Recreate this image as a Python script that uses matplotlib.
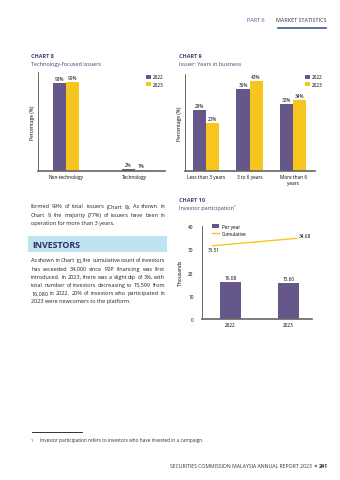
import matplotlib
matplotlib.use("Agg")
import matplotlib.pyplot as plt
import numpy as np

plt.rcParams['font.family'] = ['Open Sans', 'DejaVu Sans']

W, H = 340, 481
purple = "#655789"
yellow = "#f7c520"
navy = "#2b2f6b"
title_col = "#4a3d78"

# chart 8 data
c8_cats = ["Non-technology", "Technology"]
c8_2022 = [98, 2]
c8_2023 = [99, 1]

# chart 9 data
c9_cats = ["Less than 3 years", "3 to 6 years", "More than 6\nyears"]
c9_2022 = [29, 39, 32]
c9_2023 = [23, 43, 34]

# chart 10 data
c10_years = ["2022", "2023"]
c10_per_year = [16.08, 15.60]
c10_cumulative = [31.51, 34.68]

para1 = ["formed 99% of total issuers (Chart 8). As shown in",
         "Chart 9, the majority (77%) of issuers have been in",
         "operation for more than 3 years."]
para2 = ["As shown in Chart 10, the cumulative count of investors",
         "has exceeded 34,000 since P2P financing was first",
         "introduced. In 2023, there was a slight dip of 3%, with",
         "total number of investors decreasing to 15,599 from",
         "16,080 in 2022. 20% of investors who participated in",
         "2023 were newcomers to the platform."]

fig = plt.figure(figsize=(3.4, 4.81), dpi=100)
renderer = fig.canvas.get_renderer()


def fx(x):
    return x / W


def fy(y):
    return 1 - y / H


def add_ax(l, t, r, b):
    return fig.add_axes([fx(l), fy(b), fx(r - l), (b - t) / H])


def txt(x, y, s, **kw):
    kw.setdefault("fontsize", 3.6)
    kw.setdefault("va", "center")
    return fig.text(fx(x), fy(y), s, **kw)


def justified(lines, x0, x1, y0, step, **kw):
    # last line of a paragraph is left aligned, the rest spread to full width
    kw["va"] = "baseline"
    for i, line_txt in enumerate(lines):
        y = y0 + i * step + 1.5
        words = line_txt.split()
        if i == len(lines) - 1:
            txt(x0, y, line_txt, **kw)
            continue
        objs = [txt(0, y, w, **kw) for w in words]
        widths = [o.get_window_extent(renderer).width for o in objs]
        gap = (x1 - x0 - sum(widths)) / (len(words) - 1)
        pos = x0
        for o, w in zip(objs, widths):
            o.set_x(fx(pos))
            pos += w + gap


def style(ax):
    for s in ["top", "right"]:
        ax.spines[s].set_visible(False)
    ax.spines["left"].set_color("#555555")
    ax.spines["left"].set_linewidth(0.6)
    ax.spines["bottom"].set_color("#666666")
    ax.spines["bottom"].set_linewidth(1.2)
    ax.tick_params(length=0, labelsize=3.4, pad=2)


# header / footer
txt(327, 20, "MARKET STATISTICS", ha="right", fontsize=4.0, color="#333333")
txt(265, 20, "PART 6", ha="right", fontsize=4.0, color="#4a5a9a")
fig.add_artist(plt.Line2D([fx(278), fx(326)], [fy(28.5), fy(28.5)], color="#3d5a94", lw=1.2))
txt(312, 466, "SECURITIES COMMISSION MALAYSIA ANNUAL REPORT 2023", ha="right", fontsize=3.7, color="#333333")
txt(315.5, 466, "\u25c0", ha="center", fontsize=2.6, color="#3d5a94")
txt(318.5, 466, "241", ha="left", fontsize=3.8, color="#222222", fontweight="bold")

# chart titles
txt(31, 57, "CHART 8", fontsize=4.0, fontweight="bold", color=title_col)
txt(31, 65, "Technology-focused issuers", fontsize=4.0, color=title_col)
txt(179, 57, "CHART 9", fontsize=4.0, fontweight="bold", color=title_col)
txt(179, 65, "Issuer: Years in business", fontsize=4.0, color=title_col)
txt(179, 200, "CHART 10", fontsize=4.0, fontweight="bold", color=title_col)
txt(179, 208, "Investor participation\u00b9", fontsize=4.0, color=title_col)

# chart 8
ax8 = add_ax(38, 73, 165, 172)
x = np.arange(len(c8_cats))
bw = 0.19
b1 = ax8.bar(x - bw / 2, c8_2022, bw, color=purple, label="2022")
b2 = ax8.bar(x + bw / 2, c8_2023, bw, color=yellow, label="2023")
for bars in (b1, b2):
    ax8.bar_label(bars, labels=[f"{v:.0f}%" for v in bars.datavalues], fontsize=3.4, padding=1.5)
ax8.set_xlim(-0.41, 1.445)
ax8.set_ylim(0, 110)
ax8.set_yticks([])
ax8.set_xticks(x, c8_cats)
style(ax8)
ax8.set_ylabel("Percentage (%)", fontsize=3.6, labelpad=2)
ax8.legend(loc="upper right", bbox_to_anchor=(1.02, 1.02), frameon=False, fontsize=3.4,
           handlelength=1.0, handleheight=0.9, handletextpad=0.4, labelspacing=0.5)

# chart 9
ax9 = add_ax(185, 75, 315, 172)
x = np.arange(len(c9_cats))
bw = 0.3
b1 = ax9.bar(x - bw / 2, c9_2022, bw, color=purple, label="2022")
b2 = ax9.bar(x + bw / 2, c9_2023, bw, color=yellow, label="2023")
for bars in (b1, b2):
    ax9.bar_label(bars, labels=[f"{v:.0f}%" for v in bars.datavalues], fontsize=3.4, padding=1.5)
ax9.set_xlim(-0.48, 2.5)
ax9.set_ylim(0, 46.4)
ax9.set_yticks([])
ax9.set_xticks(x, c9_cats)
style(ax9)
ax9.set_ylabel("Percentage (%)", fontsize=3.6, labelpad=2)
ax9.legend(loc="upper right", bbox_to_anchor=(1.09, 1.04), frameon=False, fontsize=3.4,
           handlelength=1.0, handleheight=0.9, handletextpad=0.4, labelspacing=0.5)

# chart 10
ax10 = add_ax(202, 227, 312, 320)
x = np.arange(len(c10_years))
bars = ax10.bar(x, c10_per_year, 0.36, color=purple, label="Per year")
ax10.bar_label(bars, labels=[f"{v:.2f}" for v in c10_per_year], fontsize=3.4, padding=1.5)
lx = x + np.array([-0.31, 0.14])
line, = ax10.plot(lx, c10_cumulative, color=yellow, lw=1.0, label="Cumulative")
ax10.text(lx[0] + 0.02, c10_cumulative[0] - 0.6, f"{c10_cumulative[0]:.2f}", fontsize=3.4, ha="center", va="top")
ax10.text(lx[1] + 0.03, c10_cumulative[1] + 0.2, f"{c10_cumulative[1]:.2f}", fontsize=3.4, ha="left", va="bottom")
ax10.set_xlim(-0.49, 1.405)
ax10.set_ylim(0, 40)
ax10.set_yticks([0, 10, 20, 30, 40])
ax10.set_xticks(x, c10_years)
style(ax10)
ax10.tick_params(axis="y", pad=6)
ax10.set_ylabel("Thousands", fontsize=3.6, labelpad=4)
ax10.legend(handles=[bars, line], loc="upper left", bbox_to_anchor=(0.05, 1.07), frameon=False, fontsize=3.4,
            handlelength=1.6, handleheight=0.9, handletextpad=0.6, labelspacing=0.5)

# body text
body = dict(fontsize=4.0, color="#222222")
justified(para1, 31, 165, 207, 8.2, **body)

fig.add_artist(plt.Rectangle((fx(28), fy(253)), fx(167 - 28), 16 / H, color="#bfe3ef", lw=0))
txt(32, 245.5, "INVESTORS", fontsize=6.4, fontweight="bold", color=navy)

justified(para2, 31, 165, 261, 8.2, **body)

# footnote
fig.add_artist(plt.Line2D([fx(32), fx(82)], [fy(433), fy(433)], color="#333333", lw=0.7))
txt(31, 441, "1", fontsize=2.8, color="#333333")
txt(40, 441, "Investor participation refers to investors who have invested in a campaign.", fontsize=3.4, color="#333333")

fig.savefig("out.png", dpi=100)
